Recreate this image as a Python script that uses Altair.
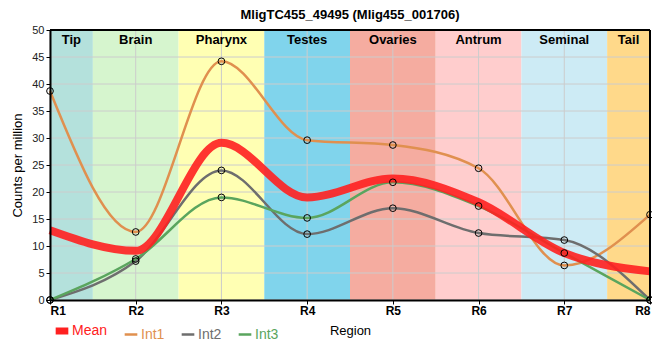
import json
import altair as alt
import pandas as pd

# ---------------- data ----------------
regions = ["R1", "R2", "R3", "R4", "R5", "R6", "R7", "R8"]
region_pos = [1, 2, 3, 4, 5, 6, 7, 8]

series_names = ["Mean", "Int1", "Int2", "Int3"]
mean_vals = [12.9, 9.1, 29.1, 19.0, 22.5, 18.1, 8.7, 5.3]
int1_vals = [38.7, 12.6, 44.2, 29.6, 28.7, 24.4, 6.4, 15.8]
int2_vals = [0.0, 7.2, 24.0, 12.2, 17.0, 12.4, 11.1, 0.0]
int3_vals = [0.0, 7.6, 19.0, 15.2, 21.8, 17.4, 8.7, 0.0]
series_colors = ["#ff2020", "#e0904f", "#6e6e6e", "#5aa55e"]
series_widths = [8, 2.5, 2.5, 2.5]

band_names = ["Tip", "Brain", "Pharynx", "Testes", "Ovaries", "Antrum", "Seminal", "Tail"]
band_start = [1, 1.5, 2.5, 3.5, 4.5, 5.5, 6.5, 7.5]
band_end = [1.5, 2.5, 3.5, 4.5, 5.5, 6.5, 7.5, 8]
band_colors = ["#b4e1dc", "#d6f5ce", "#ffffb3", "#80d4ec", "#f5aca0", "#ffcdcd", "#cdebf5", "#ffd98a"]
band_label_y = 48.2

y_ticks = [0, 5, 10, 15, 20, 25, 30, 35, 40, 45, 50]

title_text = "MligTC455_49495 (Mlig455_001706)"
y_title = "Counts per million"
x_title = "Region"

FONT = "Liberation Sans, Arial, sans-serif"

# ---------------- tables ----------------
rows = []
for name, vals, w in zip(series_names, [mean_vals, int1_vals, int2_vals, int3_vals], series_widths):
    for p, v in zip(region_pos, vals):
        rows.append({"series": name, "x": p, "y": v, "w": w})
long_df = pd.DataFrame(rows)
mean_df = long_df[long_df.series == "Mean"]
int_df = long_df[long_df.series != "Mean"]

band_df = pd.DataFrame({
    "name": band_names,
    "start": band_start,
    "end": band_end,
    "color": band_colors,
    "mid": [(a + b) / 2 for a, b in zip(band_start, band_end)],
    "ly": [band_label_y] * len(band_names),
})
hgrid_df = pd.DataFrame({"y": y_ticks})
vgrid_df = pd.DataFrame({"x": region_pos})

# ---------------- scales / axes ----------------
x_scale = alt.Scale(domain=[1, 8], nice=False, zero=False)
y_scale = alt.Scale(domain=[0, 50], nice=False)

x_axis = alt.Axis(
    title=x_title, values=region_pos,
    labelExpr=f"{json.dumps(regions)}[datum.value - 1]",
    grid=False, domainColor="black", domainWidth=2, tickColor="black",
    tickSize=4, tickWidth=1, labelFontSize=12, labelFontWeight="bold",
    labelColor="black", labelPadding=1, titleFontSize=13,
    titleFontWeight="normal", titleColor="black", titlePadding=8, zindex=1,
    labelFont=FONT, titleFont=FONT,
)
y_axis = alt.Axis(
    title=y_title, values=y_ticks, grid=False, domainColor="black",
    domainWidth=2, tickColor="black", tickSize=4, tickWidth=1,
    labelFontSize=11, labelColor="#222222", labelPadding=2,
    titleFontSize=13, titleFontWeight="normal", titleColor="black",
    titlePadding=7, zindex=1, labelFont=FONT, titleFont=FONT,
)

color_scale = alt.Scale(domain=series_names, range=series_colors)
legend = alt.Legend(
    title=None, orient="none", legendX=5, legendY=294, direction="horizontal",
    symbolType="stroke", symbolSize=160, labelFontSize=14, labelFont=FONT,
    labelColor={"expr": "scale('color', datum.value)"},
    symbolStrokeWidth={"expr": "datum.value == 'Mean' ? 7 : 2.5"},
    columnPadding=11, labelOffset=3, symbolOpacity=1,
)


def X(field):
    return alt.X(f"{field}:Q", scale=x_scale, axis=x_axis)


def Y(field):
    return alt.Y(f"{field}:Q", scale=y_scale, axis=y_axis)


bands = alt.Chart(band_df).mark_rect().encode(
    x=X("start"), x2="end", fill=alt.Fill("color:N", scale=None)
)
band_labels = alt.Chart(band_df).mark_text(
    fontSize=13, fontWeight="bold", font=FONT, color="black", baseline="middle"
).encode(x=X("mid"), y=Y("ly"), text="name:N")

hgrid = alt.Chart(hgrid_df).mark_rule(color="#cccccc", strokeWidth=1).encode(y=Y("y"))
vgrid = alt.Chart(vgrid_df).mark_rule(color="#cccccc", strokeWidth=1).encode(x=X("x"))

frame_top = alt.Chart(pd.DataFrame({"y": [50]})).mark_rule(color="black", strokeWidth=2).encode(y=Y("y"))
frame_right = alt.Chart(pd.DataFrame({"x": [8]})).mark_rule(color="black", strokeWidth=2).encode(x=X("x"))

line_enc = dict(
    x=X("x"), y=Y("y"),
    color=alt.Color("series:N", scale=color_scale, legend=legend, sort=series_names),
    strokeWidth=alt.StrokeWidth("w:Q", scale=None),
)
int_lines = alt.Chart(int_df).mark_line(interpolate="monotone").encode(**line_enc)
mean_line = alt.Chart(mean_df).mark_line(interpolate="monotone", opacity=0.9).encode(**line_enc)
points = alt.Chart(int_df).mark_point(
    shape="circle", filled=False, color="black", size=45, strokeWidth=1, opacity=1
).encode(x=X("x"), y=Y("y"))

chart = alt.layer(
    bands, hgrid, vgrid, band_labels, int_lines, mean_line, points, frame_top, frame_right
).properties(
    width=600, height=270,
    title=alt.TitleParams(title_text, fontSize=13, fontWeight="bold", font=FONT,
                          anchor="middle", frame="group", offset=2, color="black"),
    autosize=alt.AutoSizeParams(type="none"),
    padding={"left": 42, "top": 22, "right": 2, "bottom": 44},
).configure_view(stroke=None)

chart.save("out.html", embed_options={"renderer": "svg", "actions": False})
